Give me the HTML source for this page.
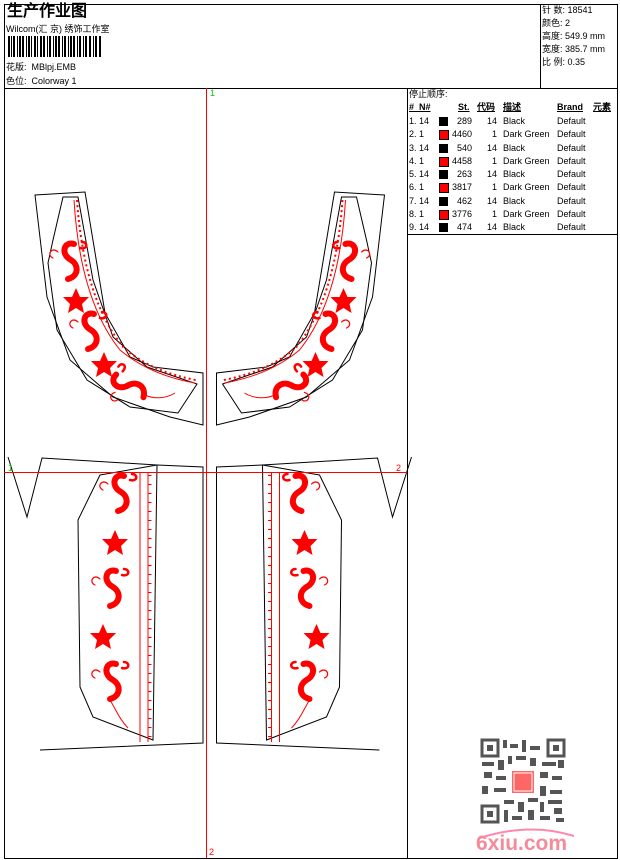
<!DOCTYPE html>
<html><head><meta charset="utf-8"><style>
html,body{margin:0;padding:0;background:#fff;}
body{width:620px;height:860px;position:relative;overflow:hidden;font-family:"Liberation Sans","WenQuanYi Zen Hei",sans-serif;color:#000;}
.t{position:absolute;font-size:9px;white-space:nowrap;line-height:11px;}
.tb{position:absolute;left:409px;top:115px;width:208px;font-size:9px;line-height:13.3px;}
.tb div{position:relative;height:13.3px;width:208px;}
.tb span{position:absolute;white-space:nowrap;}
.tb .k{left:30px;top:2px;width:9px;height:9px;background:#000;}
.tb .r{left:30px;top:2px;width:8px;height:8px;background:#f00;border:0.5px solid #000;}
.tb .s{right:145px;}
.tb .c{right:120px;}
</style></head><body>
<svg width="620" height="860" style="position:absolute;left:0;top:0" xmlns="http://www.w3.org/2000/svg">
<defs>
<g id="sw" fill="none" stroke="#f00" stroke-linecap="round">
<path d="M4,-16 c-10,-3 -14,10 -3,16 c8,5 8,16 -3,19" stroke-width="6"/>
<path d="M-12,-8 c-6,-6 -12,3 -5,6" stroke-width="1.2"/>
<path d="M10,-12 c8,2 8,-6 2,-6" stroke-width="2.5"/>
</g>
<g id="fl" fill="#f00"><polygon points="0,-13 4,-4 13,-4 6,3 8,12 0,7 -8,12 -6,3 -13,-4 -4,-4"/></g>
<g id="col">
<polygon points="35,195 85,192 105,313 130,357 153,367 203,373 203,425 170,417 113,397 70,360 47,297" fill="none" stroke="#000" stroke-width="1"/>
<polygon points="63,197 78,197 93,280 113,337 147,367 197,384 178,413 130,407 87,380 57,330 48,263 53,240" fill="none" stroke="#000" stroke-width="1"/>
<path d="M74,200 Q80,300 120,350 Q150,375 195,383" fill="none" stroke="#f00" stroke-width="1"/>
<path d="M77,200 Q84,300 124,348 Q152,372 196,380" fill="none" stroke="#f00" stroke-width="2" stroke-dasharray="2,3"/>
<use href="#sw" x="70" y="260"/><use href="#fl" x="76" y="301"/><use href="#sw" x="90" y="330"/>
<use href="#fl" x="104" y="365"/><use href="#sw" x="128" y="386" transform="rotate(-60 128 386)"/>
<path d="M145,395 c8,4 20,4 30,-2" fill="none" stroke="#f00" stroke-width="1"/>
</g>
<g id="pan">
<polyline points="8,457 27,517 42,458 157,465 203,467 203,743 40,750" fill="none" stroke="#000"/>
<polygon points="100,475 157,465 153,740 93,717 80,687 78,520" fill="none" stroke="#000"/>
<line x1="140" y1="472" x2="140" y2="742" stroke="#f00"/>
<line x1="148" y1="472" x2="148" y2="742" stroke="#f00"/>
<line x1="150" y1="475" x2="150" y2="740" stroke="#f00" stroke-dasharray="1,8" stroke-width="3"/>
<use href="#sw" x="120" y="492"/><use href="#fl" x="115" y="543"/><use href="#sw" x="112" y="587"/>
<use href="#fl" x="103" y="637"/><use href="#sw" x="112" y="680"/>
<path d="M110,700 c6,10 10,20 18,28" fill="none" stroke="#f00" stroke-width="1"/>
</g>
</defs>
<rect x="4.5" y="4.5" width="613" height="854" fill="none" stroke="#000"/>
<line x1="4" y1="88.5" x2="618" y2="88.5" stroke="#000"/>
<line x1="540.5" y1="4" x2="540.5" y2="88" stroke="#000"/>
<line x1="407.5" y1="88" x2="407.5" y2="858" stroke="#000"/>
<line x1="407" y1="234.5" x2="618" y2="234.5" stroke="#000"/>
<g fill="#000">
<rect x="8" y="36" width="2" height="21"/><rect x="11" y="36" width="1" height="21"/><rect x="13" y="36" width="2" height="21"/><rect x="17" y="36" width="1" height="21"/><rect x="19" y="36" width="2" height="21"/><rect x="22" y="36" width="2" height="21"/><rect x="26" y="36" width="1" height="21"/><rect x="28" y="36" width="2" height="21"/><rect x="31" y="36" width="1" height="21"/><rect x="34" y="36" width="2" height="21"/><rect x="37" y="36" width="1" height="21"/><rect x="40" y="36" width="2" height="21"/><rect x="43" y="36" width="2" height="21"/><rect x="47" y="36" width="1" height="21"/><rect x="49" y="36" width="2" height="21"/><rect x="53" y="36" width="1" height="21"/><rect x="55" y="36" width="2" height="21"/><rect x="58" y="36" width="2" height="21"/><rect x="62" y="36" width="1" height="21"/><rect x="64" y="36" width="2" height="21"/><rect x="68" y="36" width="1" height="21"/><rect x="70" y="36" width="2" height="21"/><rect x="73" y="36" width="2" height="21"/><rect x="77" y="36" width="1" height="21"/><rect x="79" y="36" width="2" height="21"/><rect x="83" y="36" width="1" height="21"/><rect x="85" y="36" width="2" height="21"/><rect x="89" y="36" width="2" height="21"/><rect x="93" y="36" width="1" height="21"/><rect x="95" y="36" width="2" height="21"/><rect x="99" y="36" width="2" height="21"/>
</g>
<use href="#col"/>
<use href="#col" transform="translate(419.5,0) scale(-1,1)"/>
<use href="#pan"/>
<use href="#pan" transform="translate(419.5,0) scale(-1,1)"/>
<line x1="206.5" y1="88" x2="206.5" y2="858" stroke="#f00"/>
<line x1="4" y1="472.5" x2="407" y2="472.5" stroke="#f00"/>
<g fill="#555">
<rect x="481" y="739" width="84" height="84" fill="#fff"/>
<rect x="482" y="740" width="16" height="16" fill="none" stroke="#555" stroke-width="3"/>
<rect x="548" y="740" width="16" height="16" fill="none" stroke="#555" stroke-width="3"/>
<rect x="482" y="806" width="16" height="16" fill="none" stroke="#555" stroke-width="3"/>
<rect x="487" y="745" width="6" height="6"/><rect x="553" y="745" width="6" height="6"/><rect x="487" y="811" width="6" height="6"/>
<rect x="503" y="740" width="4" height="8"/><rect x="510" y="744" width="8" height="4"/><rect x="522" y="740" width="4" height="12"/><rect x="530" y="746" width="10" height="4"/><rect x="482" y="762" width="12" height="4"/><rect x="498" y="760" width="6" height="10"/><rect x="508" y="756" width="4" height="8"/><rect x="516" y="756" width="10" height="4"/><rect x="530" y="758" width="6" height="8"/><rect x="542" y="762" width="14" height="4"/><rect x="558" y="760" width="6" height="8"/><rect x="484" y="772" width="8" height="6"/><rect x="496" y="776" width="10" height="4"/><rect x="540" y="772" width="8" height="6"/><rect x="552" y="776" width="10" height="4"/><rect x="482" y="786" width="6" height="8"/><rect x="494" y="788" width="12" height="4"/><rect x="540" y="786" width="6" height="10"/><rect x="550" y="790" width="12" height="4"/><rect x="504" y="800" width="10" height="4"/><rect x="518" y="802" width="6" height="10"/><rect x="528" y="798" width="10" height="4"/><rect x="540" y="802" width="4" height="10"/><rect x="548" y="800" width="14" height="4"/><rect x="504" y="810" width="4" height="12"/><rect x="512" y="816" width="10" height="4"/><rect x="528" y="810" width="6" height="10"/><rect x="540" y="816" width="10" height="4"/><rect x="554" y="808" width="8" height="6"/><rect x="556" y="818" width="8" height="4"/>
<rect x="512" y="771" width="22" height="22" fill="#f66"/>
<rect x="514" y="773" width="18" height="18" fill="none" stroke="#fff" stroke-width="1"/>
</g>
<path d="M480,838 Q530,822 574,836" fill="none" stroke="#f8a" stroke-width="2"/>
<text x="476" y="850" font-family="Liberation Sans,sans-serif" font-weight="bold" font-size="21" fill="#f58a98">6xiu.com</text>
</svg>
<div class="t" style="left:7px;top:3px;font-size:16px;line-height:18px;font-weight:bold;">生产作业图</div>
<div class="t" style="left:6px;top:24px;">Wilcom(汇 京) 绣饰工作室</div>
<div class="t" style="left:6px;top:62px;">花版:&nbsp; MBlpj.EMB</div>
<div class="t" style="left:6px;top:76px;">色位:&nbsp; Colorway 1</div>
<div class="t" style="left:542px;top:5px;">针 数: 18541</div>
<div class="t" style="left:542px;top:18px;">颜色: 2</div>
<div class="t" style="left:542px;top:31px;">高度: 549.9 mm</div>
<div class="t" style="left:542px;top:44px;">宽度: 385.7 mm</div>
<div class="t" style="left:542px;top:57px;">比 例: 0.35</div>
<div class="t" style="left:210px;top:88px;color:#0c0;">1</div>
<div class="t" style="left:8px;top:463px;color:#0c0;">1</div>
<div class="t" style="left:396px;top:463px;color:#f00;">2</div>
<div class="t" style="left:209px;top:847px;color:#f00;">2</div>
<div class="t" style="left:409px;top:89px;">停止顺序:</div>
<div class="t" style="left:409px;top:102px;font-weight:bold;text-decoration:underline;">#&nbsp;&nbsp;N#</div>
<div class="t" style="left:458px;top:102px;font-weight:bold;text-decoration:underline;">St.</div>
<div class="t" style="left:477px;top:102px;font-weight:bold;text-decoration:underline;">代码</div>
<div class="t" style="left:503px;top:102px;font-weight:bold;text-decoration:underline;">描述</div>
<div class="t" style="left:557px;top:102px;font-weight:bold;text-decoration:underline;">Brand</div>
<div class="t" style="left:593px;top:102px;font-weight:bold;text-decoration:underline;">元素</div>
<div class="tb">
<div><span style="left:0">1. 14</span><span class="k"></span><span class="s">289</span><span class="c">14</span><span style="left:94px">Black</span><span style="left:148px">Default</span></div>
<div><span style="left:0">2. 1</span><span class="r"></span><span class="s">4460</span><span class="c">1</span><span style="left:94px">Dark Green</span><span style="left:148px">Default</span></div>
<div><span style="left:0">3. 14</span><span class="k"></span><span class="s">540</span><span class="c">14</span><span style="left:94px">Black</span><span style="left:148px">Default</span></div>
<div><span style="left:0">4. 1</span><span class="r"></span><span class="s">4458</span><span class="c">1</span><span style="left:94px">Dark Green</span><span style="left:148px">Default</span></div>
<div><span style="left:0">5. 14</span><span class="k"></span><span class="s">263</span><span class="c">14</span><span style="left:94px">Black</span><span style="left:148px">Default</span></div>
<div><span style="left:0">6. 1</span><span class="r"></span><span class="s">3817</span><span class="c">1</span><span style="left:94px">Dark Green</span><span style="left:148px">Default</span></div>
<div><span style="left:0">7. 14</span><span class="k"></span><span class="s">462</span><span class="c">14</span><span style="left:94px">Black</span><span style="left:148px">Default</span></div>
<div><span style="left:0">8. 1</span><span class="r"></span><span class="s">3776</span><span class="c">1</span><span style="left:94px">Dark Green</span><span style="left:148px">Default</span></div>
<div><span style="left:0">9. 14</span><span class="k"></span><span class="s">474</span><span class="c">14</span><span style="left:94px">Black</span><span style="left:148px">Default</span></div>
</div>
</body></html>
